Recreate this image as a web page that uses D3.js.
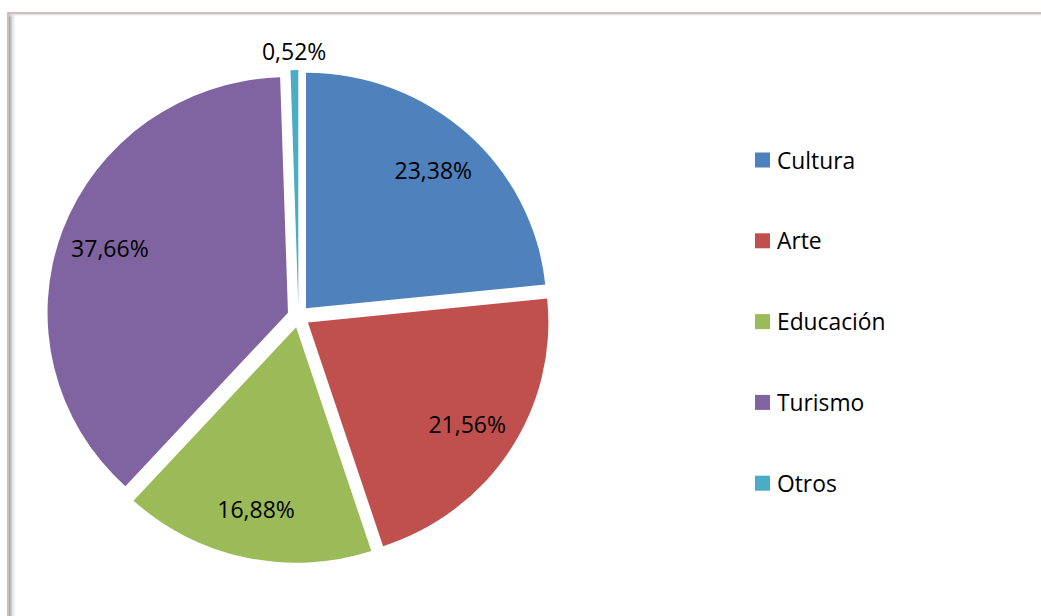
<!DOCTYPE html>
<html>
<head>
<meta charset="utf-8">
<script src="https://cdn.jsdelivr.net/npm/d3@7"></script>
<style>
  body { margin: 0; background: #fff; }
  svg { display: block; font-family: "Open Sans", sans-serif; }
</style>
</head>
<body>
<div id="chart-container"></div>
<script>
const categories = ["Cultura", "Arte", "Educación", "Turismo", "Otros"];
const shares = [23.38, 21.56, 16.88, 37.66, 0.52];
const labels = ["23,38%", "21,56%", "16,88%", "37,66%", "0,52%"];
const colors = ["#4F81BD", "#C0504D", "#9BBB59", "#8064A2", "#4BACC6"];

let width = 1041,
  height = 616,
  cx = 298.5,
  cy = 316.5,
  radius = 235.5,
  sx = 1.021, // picture is slightly wider than tall
  explode = 11;

const data = categories.map((c, i) => ({ name: c, value: shares[i], label: labels[i] }));

const svg = d3
  .select("#chart-container")
  .append("svg")
  .attr("width", width)
  .attr("height", height);

// chart frame with inner shadow on the left
const defs = svg.append("defs");
const grad = defs.append("linearGradient").attr("id", "shadow");
grad.append("stop").attr("offset", "0%").attr("stop-color", "#9a9a9a");
grad.append("stop").attr("offset", "100%").attr("stop-color", "#fff").attr("stop-opacity", 0);
const gradTop = defs.append("linearGradient").attr("id", "shadowTop")
  .attr("x1", 0).attr("y1", 0).attr("x2", 0).attr("y2", 1);
gradTop.append("stop").attr("offset", "0%").attr("stop-color", "#d8d8d8");
gradTop.append("stop").attr("offset", "100%").attr("stop-color", "#fff").attr("stop-opacity", 0);

svg.append("rect")
  .attr("x", 9).attr("y", 14)
  .attr("width", 8).attr("height", height)
  .attr("fill", "url(#shadow)");
svg.append("rect")
  .attr("x", 9).attr("y", 14)
  .attr("width", width).attr("height", 3)
  .attr("fill", "url(#shadowTop)");
svg.append("rect")
  .attr("x", 8).attr("y", 13)
  .attr("width", width + 20).attr("height", height + 20)
  .attr("fill", "none")
  .attr("stroke", "#c4b0b0")
  .attr("stroke-width", 1.6);

const pie = d3.pie().sort(null).value((d) => d.value).startAngle(0).endAngle(2 * Math.PI);
const arcs = pie(data);
const arc = d3.arc().innerRadius(0).outerRadius(radius);

const mid = (d) => (d.startAngle + d.endAngle) / 2;
// small slices get their label outside
const labelR = (d) => (d.data.value < 2 ? radius + 19 : radius * 0.79);

const g = svg.append("g").attr("transform", `translate(${cx},${cy}) scale(${sx},1)`);

g.selectAll(".slice")
  .data(arcs)
  .join("path")
  .attr("class", "slice")
  .attr("transform", (d) => `translate(${Math.sin(mid(d)) * explode},${-Math.cos(mid(d)) * explode})`)
  .attr("d", arc)
  .attr("fill", (d, i) => colors[i]);

svg
  .append("g")
  .attr("transform", `translate(${cx},${cy})`)
  .selectAll(".pie-label")
  .data(arcs)
  .join("text")
  .attr("class", "pie-label")
  .attr("x", (d) => Math.sin(mid(d)) * (labelR(d) + explode) * sx)
  .attr("y", (d) => -Math.cos(mid(d)) * (labelR(d) + explode))
  .attr("text-anchor", "middle")
  .attr("dominant-baseline", "central")
  .style("font-size", "23px")
  .style("fill", "#000")
  .text((d) => d.data.label);

// legend
const legend = svg
  .append("g")
  .selectAll(".legend")
  .data(categories)
  .join("g")
  .attr("class", "legend")
  .attr("transform", (d, i) => `translate(755,${160 + i * 80.8})`);

legend
  .append("rect")
  .attr("x", 0)
  .attr("y", -7.5)
  .attr("width", 15)
  .attr("height", 15)
  .attr("fill", (d, i) => colors[i]);

legend
  .append("text")
  .attr("x", 22)
  .attr("y", 0)
  .attr("dominant-baseline", "central")
  .style("font-size", "22.8px")
  .style("fill", "#000")
  .text((d) => d);
</script>
</body>
</html>
